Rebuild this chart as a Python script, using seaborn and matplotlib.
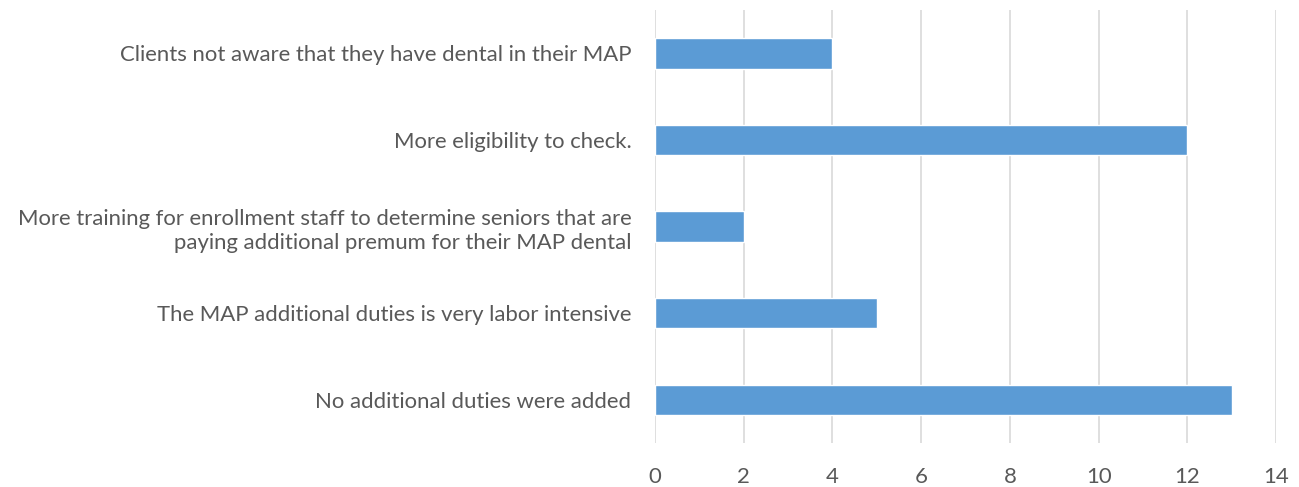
import matplotlib
matplotlib.use("Agg")
import matplotlib.pyplot as plt
import seaborn as sns
import pandas as pd

categories = [
    "Clients not aware that they have dental in their MAP",
    "More eligibility to check.",
    "More training for enrollment staff to determine seniors that are\npaying additional premum for their MAP dental",
    "The MAP additional duties is very labor intensive",
    "No additional duties were added",
]
values = [4, 12, 2, 5, 13]
xticks = [0, 2, 4, 6, 8, 10, 12, 14]

sns.set_theme(style="white")
plt.rcParams['font.family'] = ['Lato', 'DejaVu Sans']

df = pd.DataFrame({"category": categories, "value": values})

fig = plt.figure(figsize=(12.99, 4.87), dpi=100)
ax = fig.add_axes([0.5042, 0.0903, 0.4781, 0.889])
sns.barplot(data=df, x="value", y="category", color="#5B9BD5", width=0.35,
            saturation=1, ax=ax, zorder=3)
ax.set_xlim(0, 14)
ax.set_xticks(xticks)
ax.set_xticklabels([str(t) for t in xticks])
ax.grid(axis="x", color="#D9D9D9", linewidth=1.2, zorder=0)
ax.set_axisbelow(True)
for s in ax.spines.values():
    s.set_visible(False)
ax.set_xlabel("")
ax.set_ylabel("")
ax.tick_params(axis="y", length=0, pad=17, labelsize=15.9, labelcolor="#595959")
ax.tick_params(axis="x", length=0, pad=17, labelsize=15.9, labelcolor="#595959")
for lab in ax.get_yticklabels():
    lab.set_linespacing(1.3)
fig.savefig("out.png", dpi=100)
